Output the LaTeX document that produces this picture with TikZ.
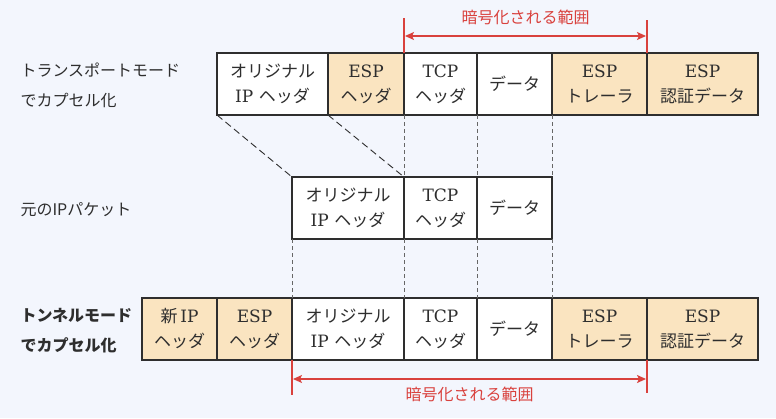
\documentclass[tikz,border=0pt]{standalone}
\usepackage{fontspec}
\setmainfont{DejaVu Serif}
\newfontfamily\jp{Noto Sans CJK JP}
\usepackage{xcolor}
\usetikzlibrary{arrows.meta,positioning}
\definecolor{bgblue}{HTML}{F3F6FD}
\definecolor{espfill}{HTML}{FAE4C0}
\definecolor{rangered}{HTML}{D9413D}
\definecolor{inkgray}{HTML}{2E2E2E}

\begin{document}
\begin{tikzpicture}[
x=1pt,y=-1pt,
node distance=0pt,
pkt/.style={
draw=inkgray,
line width=1.3pt,
fill=white,
outer sep=0pt,
minimum height=62pt,
inner sep=0pt,
align=center,
text=inkgray,
font=\fontsize{17}{25}\selectfont
},
espbox/.style={pkt,fill=espfill},
guide/.style={dash pattern=on 4pt off 3pt,gray!80!black,line width=0.9pt},
diagguide/.style={dash pattern=on 7pt off 4pt,inkgray,line width=0.9pt},
rng/.style={rangered,line width=1.4pt},
rngarrow/.style={rng,{Stealth[length=9pt,width=8pt,inset=2pt]}-{Stealth[length=9pt,width=8pt,inset=2pt]},shorten <=1pt,shorten >=1pt},
rnglabel/.style={text=rangered,font=\jp\fontsize{16}{18}\selectfont},
modelabel/.style={align=left,anchor=west,text=inkgray,font=\jp\fontsize{16}{30}\selectfont}
]
\useasboundingbox[fill=bgblue] (0,0) rectangle (776,418);

% mode labels
\node[modelabel] (transLbl) at (17,85) {トランスポートモード\\でカプセル化};
\node[modelabel] (origLbl) at (17,210) {元のIPパケット};
\node[modelabel,font=\jp\bfseries\fontsize{16}{30}\selectfont] (tunLbl) at (17,331) {トンネルモード\\でカプセル化};

% transport mode
\node[pkt,minimum width=111pt,anchor=north west] (tOrig) at (217,53) {{\jp オリジナル}\\IP {\jp ヘッダ}};
\node[espbox,minimum width=76pt,right=of tOrig] (tEspH) {ESP\\{\jp ヘッダ}};
\node[pkt,minimum width=73pt,right=of tEspH] (tTcp) {TCP\\{\jp ヘッダ}};
\node[pkt,minimum width=75pt,right=of tTcp] (tData) {\jp データ};
\node[espbox,minimum width=95pt,right=of tData] (tTrl) {ESP\\{\jp トレーラ}};
\node[espbox,minimum width=111pt,right=of tTrl] (tAuth) {ESP\\{\jp 認証データ}};

% original packet
\node[pkt,minimum width=112pt,anchor=north west] (mOrig) at (292,177) {{\jp オリジナル}\\IP {\jp ヘッダ}};
\node[pkt,minimum width=73pt,right=of mOrig] (mTcp) {TCP\\{\jp ヘッダ}};
\node[pkt,minimum width=75pt,right=of mTcp] (mData) {\jp データ};

% tunnel mode
\node[espbox,minimum width=75pt,anchor=north west] (bNewIP) at (142,298) {{\jp 新}\,IP\\{\jp ヘッダ}};
\node[espbox,minimum width=75pt,right=of bNewIP] (bEspH) {ESP\\{\jp ヘッダ}};
\node[pkt,minimum width=112pt,right=of bEspH] (bOrig) {{\jp オリジナル}\\IP {\jp ヘッダ}};
\node[pkt,minimum width=73pt,right=of bOrig] (bTcp) {TCP\\{\jp ヘッダ}};
\node[pkt,minimum width=75pt,right=of bTcp] (bData) {\jp データ};
\node[espbox,minimum width=95pt,right=of bData] (bTrl) {ESP\\{\jp トレーラ}};
\node[espbox,minimum width=111pt,right=of bTrl] (bAuth) {ESP\\{\jp 認証データ}};

% guides
\draw[diagguide] (tOrig.south west) -- (mOrig.north west);
\draw[diagguide] (tEspH.south west) -- (mTcp.north west);
\draw[guide] (tTcp.south west) -- (mTcp.north west);
\draw[guide] (tData.south west) -- (mData.north west);
\draw[guide] (tData.south east) -- (mData.north east);
\draw[guide] (mOrig.south west) -- (bOrig.north west);
\draw[guide] (mTcp.south west) -- (bTcp.north west);
\draw[guide] (mData.south west) -- (bData.north west);
\draw[guide] (mData.south east) -- (bData.north east);

% encrypted range
\draw[rng] (tTcp.north west) -- ++(0,-35);
\draw[rng] (tAuth.north west) -- ++(0,-33);
\draw[rngarrow] ([yshift=17pt]tTcp.north west) -- ([yshift=17pt]tAuth.north west)
  node[rnglabel,midway,above=7pt] (encTop) {暗号化される範囲};
\draw[rng] (bOrig.south west) -- ++(0,35);
\draw[rng] (bAuth.south west) -- ++(0,33);
\draw[rngarrow] ([yshift=-19pt]bOrig.south west) -- ([yshift=-19pt]bAuth.south west)
  node[rnglabel,midway,below=4pt] (encBot) {暗号化される範囲};
\end{tikzpicture}
\end{document}
